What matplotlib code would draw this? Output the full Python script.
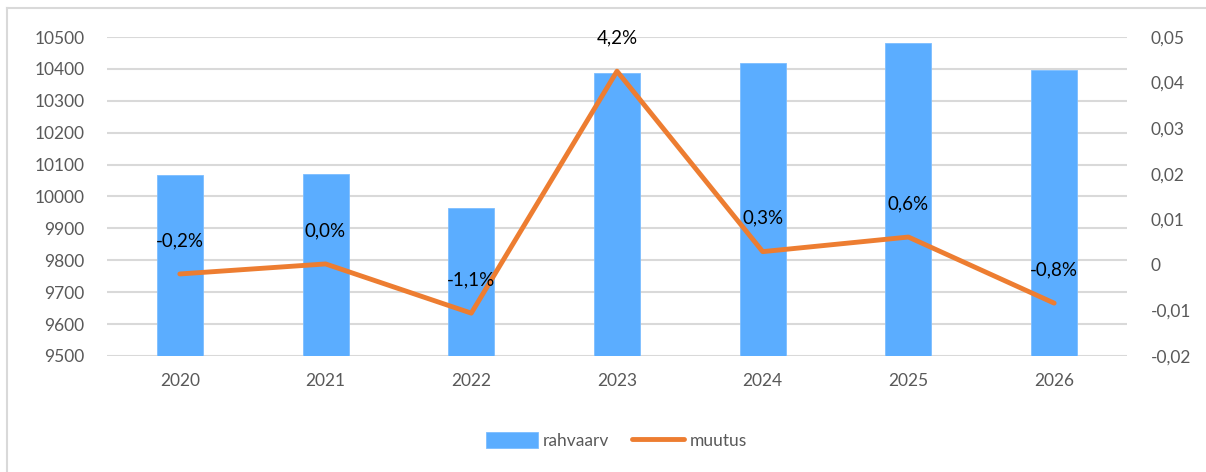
import numpy as np
import matplotlib.pyplot as plt
from matplotlib.lines import Line2D
from matplotlib.ticker import FuncFormatter

years = ['2020', '2021', '2022', '2023', '2024', '2025', '2026']
rahvaarv = [10067, 10071, 9964, 10387, 10418, 10481, 10397]
muutus = [-0.0020, 0.0002, -0.0106, 0.0425, 0.0029, 0.0061, -0.0084]
muutus_labels = ['-0,2%', '0,0%', '-1,1%', '4,2%', '0,3%', '0,6%', '-0,8%']

plt.rcParams['font.family'] = ['Lato', 'DejaVu Sans']
grey = '#595959'

fig = plt.figure(figsize=(12.06, 4.72), dpi=100)
ax = fig.add_axes([0.0887, 0.2458, 0.8458, 0.6758])
ax2 = ax.twinx()

x = np.arange(len(years))

# bars on the left axis
ax.bar(x, rahvaarv, width=0.316, color='#5BADFF', edgecolor='#7DBEFF',
       linewidth=0.6, zorder=2, label='rahvaarv')
ax.set_ylim(9500, 10500)
ax.set_yticks(np.arange(9500, 10501, 100))
ax.set_xlim(-0.5, len(years) - 0.5)
ax.set_xticks(x)
ax.set_xticklabels(years)
ax.yaxis.grid(True, color='#d9d9d9', linewidth=1.5, zorder=0)
ax.set_axisbelow(True)

# line on the right axis
ax2.plot(x, muutus, color='#ED7D31', linewidth=3.5, solid_capstyle='round',
         zorder=3, label='muutus')
ax2.set_ylim(-0.02, 0.05)
ax2.set_yticks(np.arange(-0.02, 0.0501, 0.01))
ax2.yaxis.set_major_formatter(FuncFormatter(
    lambda v, p: '0' if abs(v) < 1e-9 else f'{v:.2f}'.replace('.', ',')))

for xi, v, lab in zip(x, muutus, muutus_labels):
    ax2.annotate(lab, (xi, v), xytext=(0, 24), textcoords='offset points',
                 ha='center', va='center', fontsize=13.5, color='black')

for a in (ax, ax2):
    for s in a.spines.values():
        s.set_visible(False)
    a.tick_params(length=0, labelsize=12.5, labelcolor=grey)
ax.tick_params(axis='y', pad=16)
ax.tick_params(axis='x', pad=12)
ax2.tick_params(axis='y', pad=17)

# legend
h1, l1 = ax.get_legend_handles_labels()
h2, l2 = ax2.get_legend_handles_labels()
leg = fig.legend(h1 + h2, l1 + l2, loc='center', bbox_to_anchor=(0.511, 0.066),
                 ncol=2, frameon=False, fontsize=12.5, handlelength=3.0,
                 handleheight=1.0, handletextpad=0.3, columnspacing=1.3)
for t in leg.get_texts():
    t.set_color(grey)

# chart frame (only left and top edges visible)
fig.add_artist(Line2D([0.0058, 0.0058], [0, 1 - 8 / 472], color='#d9d9d9',
                      linewidth=1.5, transform=fig.transFigure))
fig.add_artist(Line2D([0.0058, 1.0], [1 - 8 / 472, 1 - 8 / 472], color='#d9d9d9',
                      linewidth=1.5, transform=fig.transFigure))

fig.savefig('out.png', dpi=100)
